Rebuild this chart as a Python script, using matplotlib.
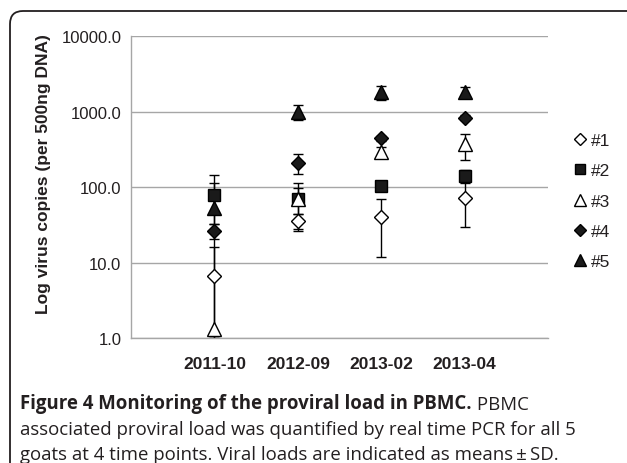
import matplotlib
matplotlib.use("Agg")
import matplotlib.pyplot as plt
from matplotlib.lines import Line2D
from matplotlib.patches import FancyBboxPatch
import numpy as np

time_points = ["2011-10", "2012-09", "2013-02", "2013-04"]
goats = ["#1", "#2", "#3", "#4", "#5"]

# mean proviral load per goat (copies / 500ng DNA)
mean_1 = [6.6, 35.0, 40.5, 71.5]
mean_2 = [78.0, 69.5, 102.0, 141.0]
mean_3 = [1.3, 70.0, 294.0, 367.0]
mean_4 = [26.4, 210.0, 442.0, 828.0]
mean_5 = [52.7, 1000.0, 1795.0, 1795.0]

# standard deviations
sd_1 = [9.4, 9.0, 28.5, 42.0]
sd_2 = [34.0, 42.0, 8.0, 25.0]
sd_3 = [144.0, 26.0, 42.0, 141.0]
sd_4 = [6.0, 63.0, 40.0, 60.0]
sd_5 = [20.0, 220.0, 360.0, 300.0]

means = [mean_1, mean_2, mean_3, mean_4, mean_5]
sds = [sd_1, sd_2, sd_3, sd_4, sd_5]
markers = ["D", "s", "^", "D", "^"]
faces = ["white", "#1a1a1a", "white", "#1a1a1a", "#1a1a1a"]
sizes = [7.5, 9, 9.5, 7.5, 9.5]

plt.rcParams["font.family"] = ["Liberation Sans", "DejaVu Sans"]
txt = "#231f20"

fig = plt.figure(figsize=(6.27, 4.64), dpi=100)
ax = fig.add_axes([0.209, 0.2694, 0.665, 0.6506])

x = np.arange(1, len(time_points) + 1)
y_min = 1.0
for m, s, mk, fc, ms in zip(means, sds, markers, faces, sizes):
    m = np.array(m)
    s = np.array(s)
    low = np.clip(m - s, y_min, None)
    ax.errorbar(x, m, yerr=[m - low, s], fmt="none", ecolor="black",
                elinewidth=1, capsize=3.5, capthick=1, zorder=2)
    ax.plot(x, m, linestyle="none", marker=mk, markersize=ms,
            markerfacecolor=fc, markeredgecolor="black",
            markeredgewidth=1, zorder=3)

ax.set_yscale("log")
ax.set_ylim(1, 10000)
ax.set_xlim(0, 5)
ax.set_yticks([1, 10, 100, 1000, 10000])
ax.set_yticklabels(["1.0", "10.0", "100.0", "1000.0", "10000.0"],
                   fontsize=12, color=txt)
ax.minorticks_off()
ax.set_xticks(x)
ax.set_xticklabels(time_points, fontsize=12.5, fontweight="bold", color=txt)
ax.tick_params(axis="x", length=0, pad=13)
ax.tick_params(axis="y", length=0, pad=7)
ax.grid(axis="y", color="#a6a6a6", linewidth=1)
ax.set_axisbelow(True)
for side in ["top", "right"]:
    ax.spines[side].set_visible(False)
for side in ["left", "bottom"]:
    ax.spines[side].set_color("#a6a6a6")
    ax.spines[side].set_linewidth(1)

fig.text(44 / 627, 1 - 174.5 / 464, "Log virus copies (per 500ng DNA)",
         rotation=90, ha="center", va="center", fontsize=12.5,
         fontweight="bold", color=txt)

handles = [Line2D([], [], linestyle="none", marker=mk, markersize=ms * 0.85,
                  markerfacecolor=fc, markeredgecolor="black",
                  markeredgewidth=1)
           for mk, fc, ms in zip(markers, faces, sizes)]
fig.legend(handles, goats, loc="center left",
           bbox_to_anchor=(0.9, 1 - 202 / 464), frameon=False,
           fontsize=12.5, labelspacing=0.88, handlelength=0.8,
           handletextpad=0.25, borderpad=0, labelcolor=txt)

# rounded frame around figure panel
frame = FancyBboxPatch((0.10, -0.5), 7.0, 4.52 + 0.5,
                       boxstyle="round,pad=0,rounding_size=0.13",
                       transform=fig.dpi_scale_trans, facecolor="none",
                       edgecolor="#231f20", linewidth=1.3)
fig.add_artist(frame)

cap_font = ["Open Sans", "DejaVu Sans"]
cap_size = 13.4
t1 = fig.text(20 / 627, 1 - 404 / 464,
              "Figure 4 Monitoring of the proviral load in PBMC.",
              fontsize=cap_size, fontweight="bold", family=cap_font,
              color=txt, va="center")
ax.annotate(" PBMC", xy=(1, 0), xycoords=t1, va="bottom", ha="left",
            fontsize=cap_size, family=cap_font, color=txt,
            annotation_clip=False)
fig.text(20 / 627, 1 - 430 / 464,
         "associated proviral load was quantified by real time PCR for all 5",
         fontsize=cap_size, family=cap_font, color=txt, va="center")
fig.text(20 / 627, 1 - 455 / 464,
         "goats at 4 time points. Viral loads are indicated as means\u2009\u00b1\u2009SD.",
         fontsize=cap_size, family=cap_font, color=txt, va="center")

fig.savefig("out.png", dpi=100)
